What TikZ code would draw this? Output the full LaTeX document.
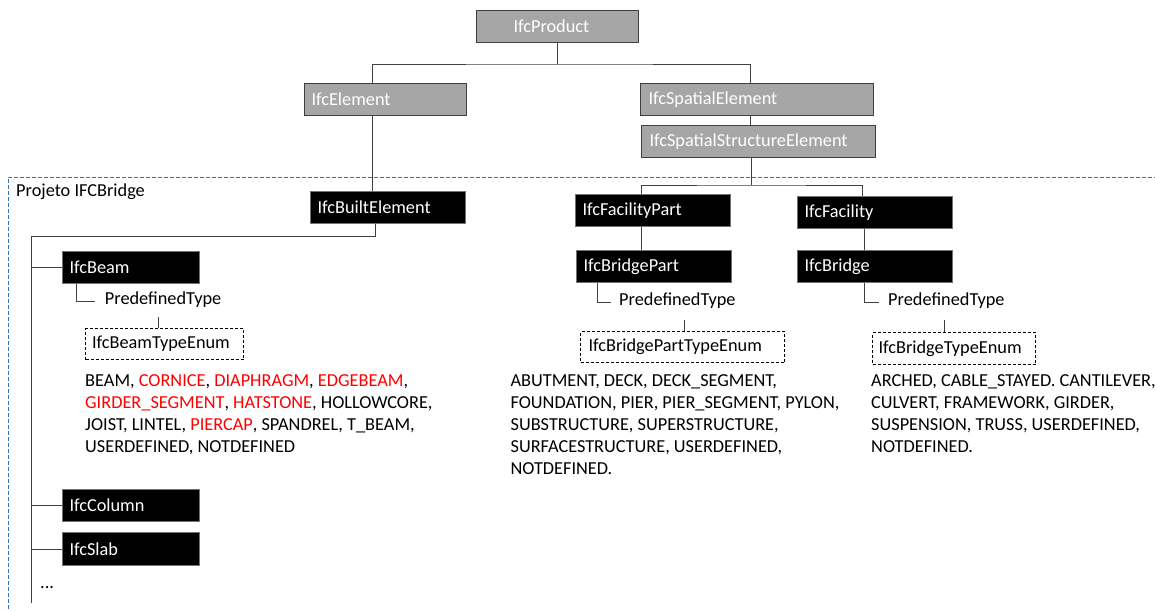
\documentclass[tikz,border=0pt]{standalone}
\usepackage{fontspec}
\setmainfont{Carlito}
\usetikzlibrary{calc}
\definecolor{boxgray}{HTML}{A6A6A6}
\definecolor{edge}{HTML}{404040}
\definecolor{projblue}{HTML}{2E75B6}
\definecolor{newred}{HTML}{FF0000}
\tikzset{
  basebox/.style={font=\fontsize{18.3}{22}\selectfont, inner ysep=0pt, minimum height=32pt, anchor=north west, align=left, line width=1pt},
  gbox/.style={basebox, draw=edge, fill=boxgray, text=white},
  kbox/.style={basebox, draw=black!55, fill=black, text=white},
  ebox/.style={basebox, draw=black, fill=white, text=black, dash pattern=on 3pt off 2pt},
  conn/.style={draw=edge, line width=1pt},
  lbl/.style={font=\fontsize{18.3}{22}\selectfont, inner sep=0pt, anchor=west},
  lst/.style={font=\fontsize{18.3}{22}\selectfont, inner sep=0pt, anchor=north west, align=left},
  projline/.style={draw=projblue, line width=1pt, dash pattern=on 4pt off 2pt},
}
\newcommand{\rd}[1]{\textcolor{newred}{#1}}
\begin{document}
\begin{tikzpicture}[x=1pt,y=-1pt]
\useasboundingbox (0,0) rectangle (1155,610);
% project frame
\draw[projline] (8,615) -- (8,177) -- (1160,177);
\node[lbl] (proj) at (16,192) {Projeto IFCBridge};
% boxes
\node[gbox, inner xsep=37pt, text width=88pt] (prod) at (476,10) {IfcProduct};
\node[gbox, inner xsep=7pt, text width=148pt] (elem) at (304,83) {IfcElement};
\node[gbox, inner xsep=8pt, text width=217pt] (spat) at (640,83) {IfcSpatialElement};
\node[gbox, inner xsep=8pt, text width=218pt] (sse) at (641,125) {IfcSpatialStructureElement};
\node[kbox, inner xsep=7pt, text width=141pt] (built) at (310,191) {IfcBuiltElement};
\node[kbox, inner xsep=7pt, text width=141pt] (fpart) at (575,194) {IfcFacilityPart};
\node[kbox, inner xsep=7pt, text width=141pt] (fac) at (797,196) {IfcFacility};
\node[kbox, inner xsep=7pt, text width=141pt] (bpart) at (576,250) {IfcBridgePart};
\node[kbox, inner xsep=7pt, text width=141pt] (bridge) at (797,250) {IfcBridge};
\node[kbox, inner xsep=7pt, text width=123pt] (beam) at (62,251) {IfcBeam};
\node[kbox, inner xsep=7pt, text width=123pt] (column) at (62,489) {IfcColumn};
\node[kbox, inner xsep=7pt, text width=123pt, minimum height=33pt] (slab) at (62,532) {IfcSlab};
% enums
\node[ebox, inner xsep=6.5pt, text width=145pt, minimum height=31pt] (benum) at (85,328) {IfcBeamTypeEnum};
\node[ebox, inner xsep=8pt, text width=188pt, minimum height=31pt] (bpenum) at (580,331) {IfcBridgePartTypeEnum};
\node[ebox, inner xsep=6pt, text width=151pt, minimum height=32pt] (brenum) at (872,332) {IfcBridgeTypeEnum};
% predefined type labels
\node[lbl] (bmpt) at (104.7,300) {PredefinedType};
\node[lbl] (bppt) at (619,301) {PredefinedType};
\node[lbl] (brpt) at (888,301) {PredefinedType};
% lists
\node[lst] (blist) at (85,374) {BEAM, \rd{CORNICE}, \rd{DIAPHRAGM}, \rd{EDGEBEAM},\\
\rd{GIRDER\_SEGMENT}, \rd{HATSTONE}, HOLLOWCORE,\\
JOIST, LINTEL, \rd{PIERCAP}, SPANDREL, T\_BEAM,\\
USERDEFINED, NOTDEFINED};
\node[lst] (bplist) at (510.4,374) {ABUTMENT, DECK, DECK\_SEGMENT,\\
FOUNDATION, PIER, PIER\_SEGMENT, PYLON,\\
SUBSTRUCTURE, SUPERSTRUCTURE,\\
SURFACESTRUCTURE, USERDEFINED,\\
NOTDEFINED.};
\node[lst] (brlist) at (871,374) {ARCHED, CABLE\_STAYED. CANTILEVER,\\
CULVERT, FRAMEWORK, GIRDER,\\
SUSPENSION, TRUSS, USERDEFINED,\\
NOTDEFINED.};
\node[lbl] (dots) at (40,588) {...};
% connectors top
\draw[conn] (prod.south) -- ++(0,21) coordinate (pj);
\draw[conn] ($(elem.north west)+(68.5,0)$) |- (pj) -| ($(spat.north west)+(110,0)$);
\draw[conn] ($(elem.south west)+(68.5,0)$) -- ($(built.north west)+(62.5,0)$);
\draw[conn] ($(spat.south west)+(110,0)$) -- ($(sse.north west)+(109,0)$);
\draw[conn] ($(sse.south west)+(110,0)$) -- ++(0,27) coordinate (sj);
\draw[conn] ($(fpart.north west)+(66,0)$) |- (sj) -| ($(fac.north west)+(65,0)$);
\draw[conn] ($(fpart.south west)+(66,0)$) -- ($(bpart.north west)+(65,0)$);
\draw[conn] ($(fac.south west)+(67,0)$) -- ($(bridge.north west)+(67,0)$);
% trunk
\coordinate (ttop) at (31.5,236);
\coordinate (tend) at (31.5,603);
\draw[conn] ($(built.south west)+(65,0)$) |- (ttop) -- (tend);
\draw[conn] (beam.west) -- (beam.west -| ttop);
\draw[conn] (column.west) -- (column.west -| ttop);
\draw[conn] (slab.west) -- (slab.west -| ttop);
% predefined type connectors
\draw[conn] ($(beam.south west)+(14.6,0)$) |- ($(bmpt.west)+(-10,1)$);
\draw[conn] ($(bpart.south west)+(21.6,0)$) |- ($(bppt.west)+(-8,1)$);
\draw[conn] ($(bridge.south west)+(67,0)$) |- ($(brpt.west)+(-9,1)$);
\draw[conn] ($(benum.north west)+(73,0)$) -- ++(0,-11);
\draw[conn] ($(bpenum.north west)+(104,0)$) -- ++(0,-11);
\draw[conn] ($(brenum.north west)+(72,0)$) -- ++(0,-12);
\end{tikzpicture}
\end{document}
